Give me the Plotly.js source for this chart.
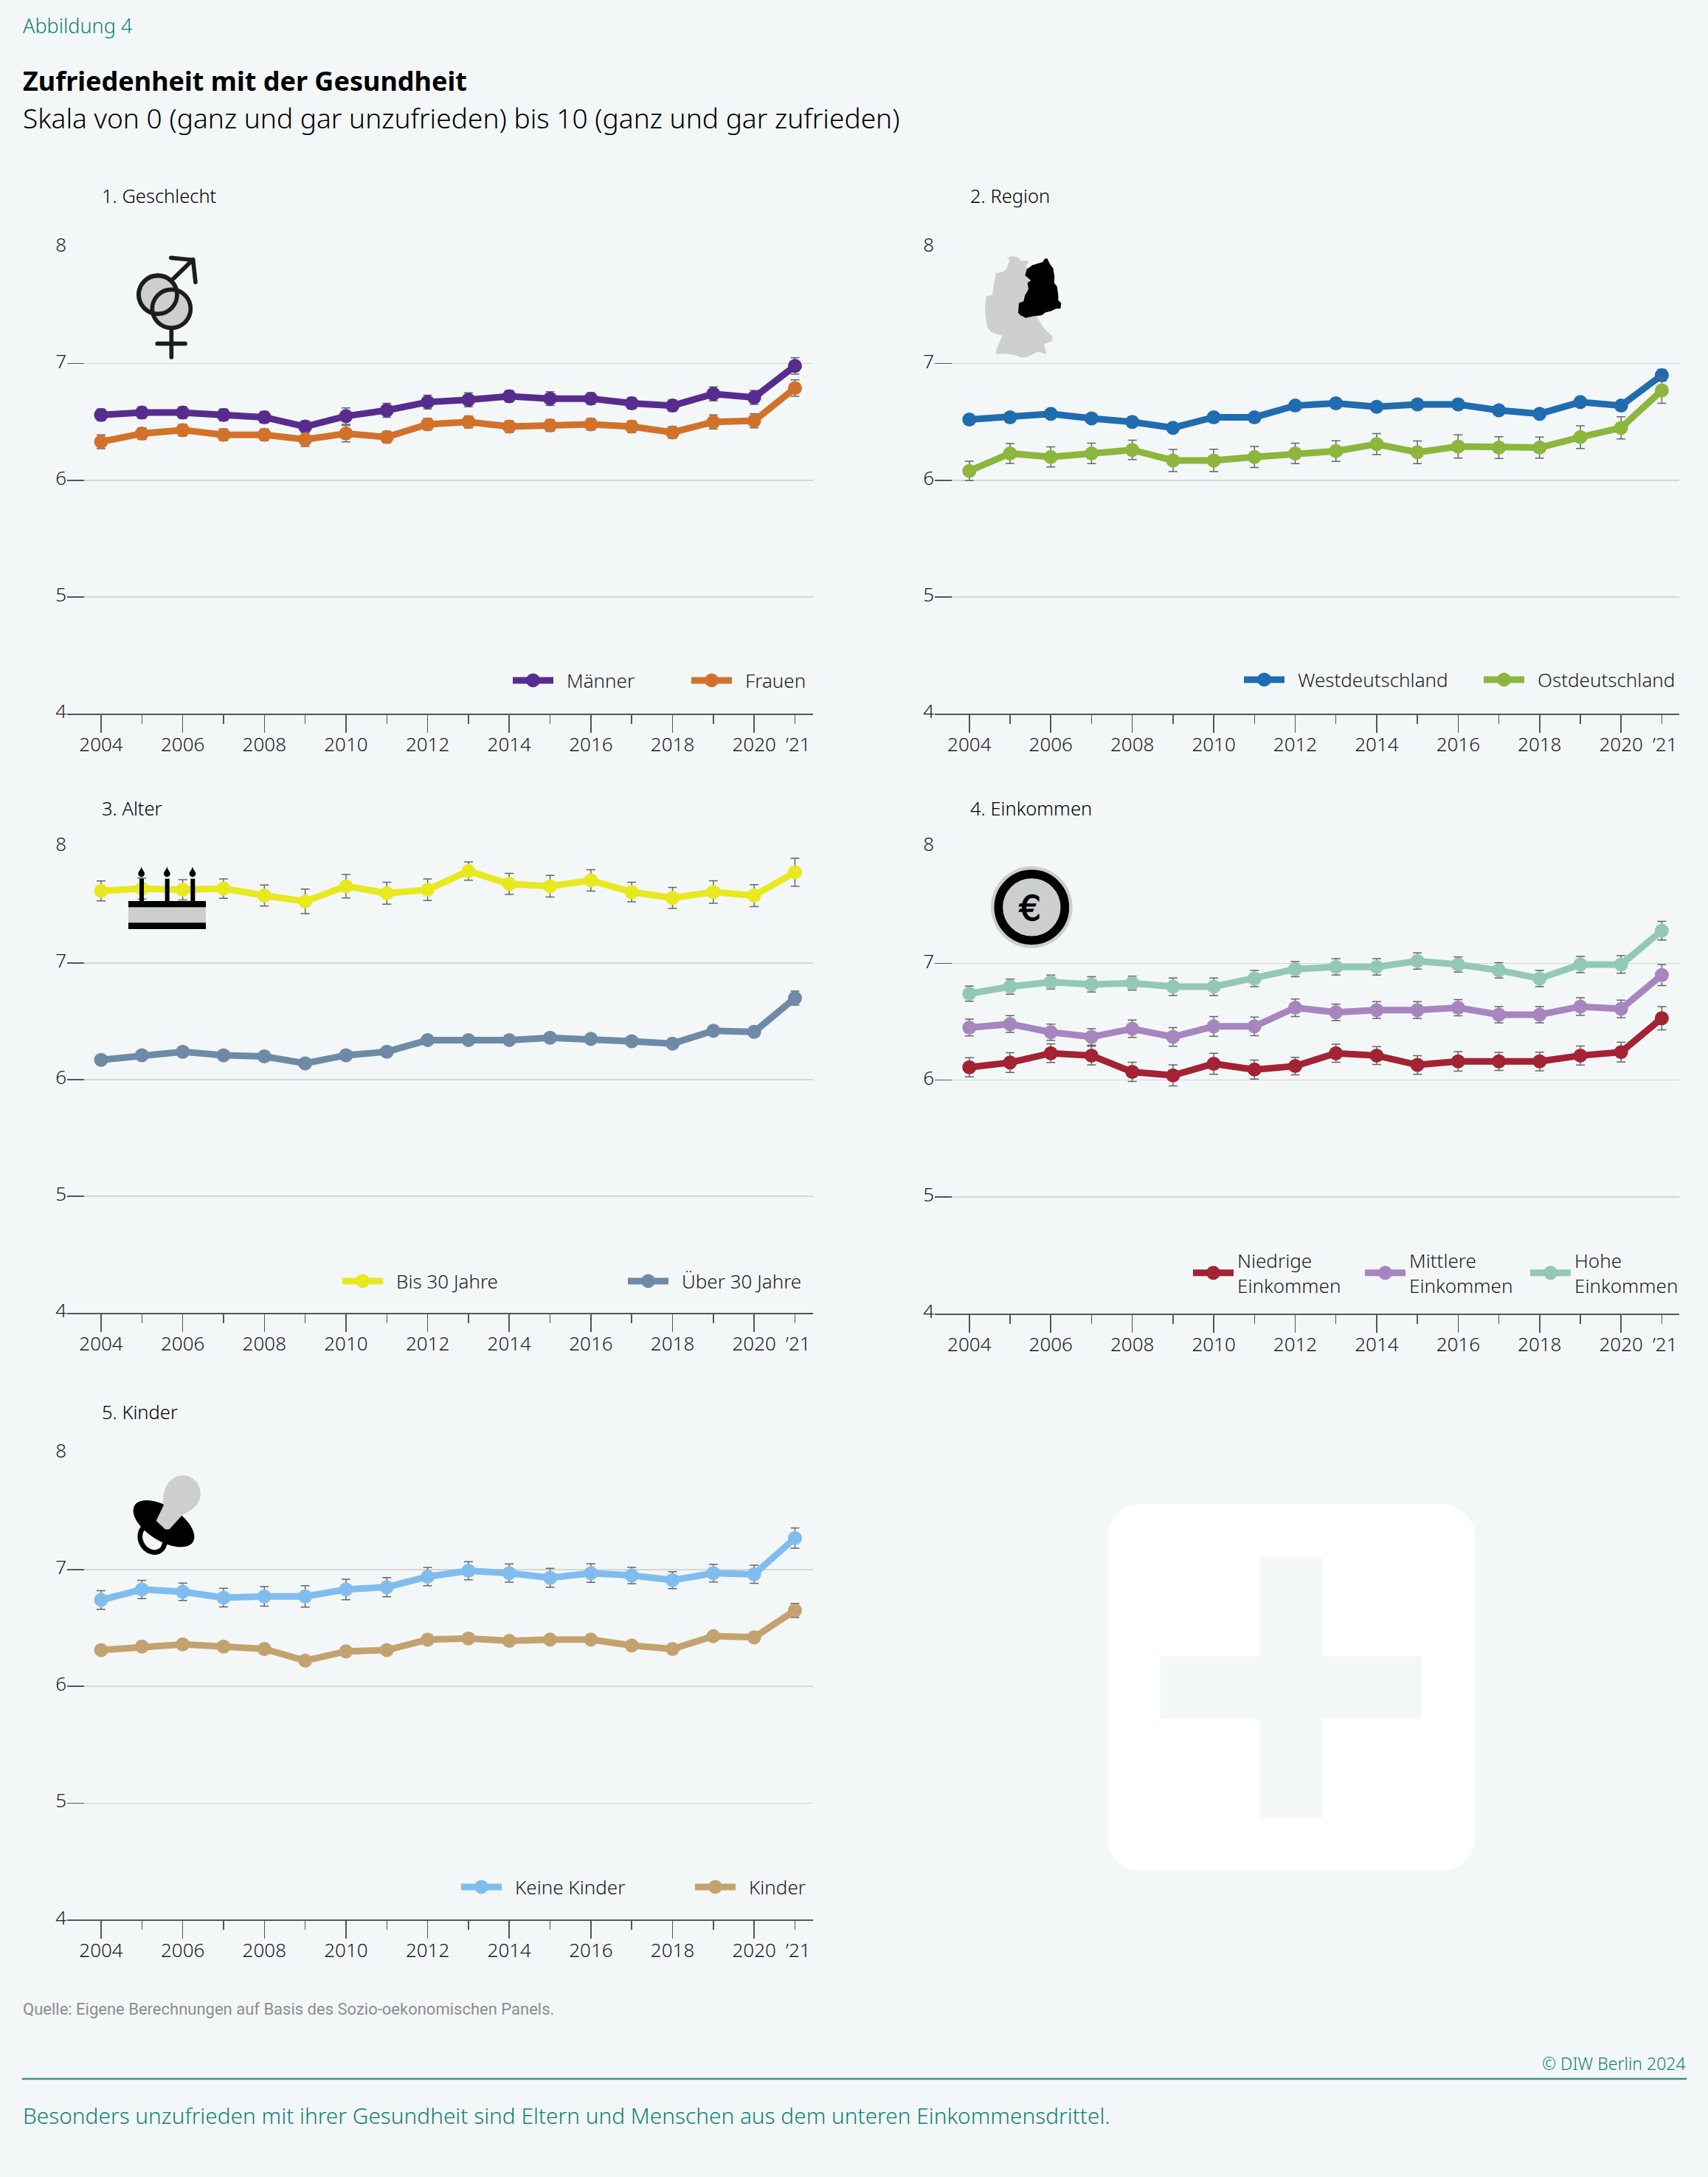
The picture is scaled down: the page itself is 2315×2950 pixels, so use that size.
<!DOCTYPE html>
<html>
<head>
<meta charset="utf-8">
<script src="https://cdn.plot.ly/plotly-3.0.1.min.js"></script>
<style>html,body{margin:0;padding:0;background:#f3f7f8}</style>
</head>
<body>
<div id="chart"></div>
<script>
var W = 2315, H = 2950;

var years = [2004,2005,2006,2007,2008,2009,2010,2011,2012,2013,2014,2015,2016,2017,2018,2019,2020,2021];
var tickLabels = ['2004','','2006','','2008','','2010','','2012','','2014','','2016','','2018','','2020','\u2009\u2009\u201921'];
var evenYears = [2004,2006,2008,2010,2012,2014,2016,2018,2020];
var yTicks = [4,5,6,7,8];

var maenner = [6.56,6.58,6.58,6.56,6.54,6.46,6.55,6.60,6.67,6.69,6.72,6.70,6.70,6.66,6.64,6.74,6.71,6.98];
var maennerErr = [.05,.05,.05,.05,.05,.05,.07,.06,.06,.06,.05,.06,.05,.05,.05,.06,.06,.07];
var frauen = [6.33,6.40,6.43,6.39,6.39,6.35,6.40,6.37,6.48,6.50,6.46,6.47,6.48,6.46,6.41,6.50,6.51,6.79];
var frauenErr = [.06,.05,.05,.05,.05,.06,.07,.05,.05,.05,.05,.05,.05,.05,.05,.06,.06,.07];

var west = [6.52,6.54,6.57,6.53,6.50,6.45,6.54,6.54,6.64,6.66,6.63,6.65,6.65,6.60,6.57,6.67,6.64,6.90];
var westErr = [.03,.03,.03,.03,.03,.03,.03,.03,.03,.03,.03,.03,.03,.03,.03,.03,.03,.05];
var ost = [6.08,6.23,6.20,6.23,6.26,6.17,6.17,6.20,6.23,6.25,6.31,6.24,6.29,6.28,6.28,6.37,6.45,6.77];
var ostErr = [.083,.085,.086,.088,.083,.095,.096,.09,.088,.088,.09,.097,.1,.093,.09,.097,.095,.11];

var bis30 = [7.62,7.64,7.63,7.64,7.58,7.53,7.66,7.60,7.63,7.79,7.68,7.66,7.71,7.61,7.56,7.61,7.58,7.78];
var bis30Err = [.085,.09,.087,.083,.09,.105,.1,.094,.092,.078,.09,.092,.092,.084,.09,.097,.094,.12];
var ueber30 = [6.17,6.21,6.24,6.21,6.20,6.14,6.21,6.24,6.34,6.34,6.34,6.36,6.35,6.33,6.31,6.42,6.41,6.70];
var ueber30Err = [.03,.03,.03,.03,.03,.03,.03,.03,.03,.03,.03,.03,.03,.03,.03,.03,.03,.06];

var niedrig = [6.11,6.15,6.23,6.21,6.07,6.04,6.14,6.09,6.12,6.23,6.21,6.13,6.16,6.16,6.16,6.21,6.24,6.53];
var niedrigErr = [.082,.084,.08,.08,.082,.09,.09,.082,.075,.077,.077,.08,.084,.077,.08,.082,.084,.1];
var mittel = [6.45,6.48,6.41,6.37,6.44,6.37,6.46,6.46,6.62,6.58,6.60,6.60,6.62,6.56,6.56,6.63,6.61,6.90];
var mittelErr = [.072,.072,.07,.07,.075,.08,.085,.08,.075,.07,.072,.072,.07,.07,.07,.075,.075,.09];
var hoch = [6.74,6.80,6.84,6.82,6.83,6.80,6.80,6.87,6.95,6.97,6.97,7.02,6.99,6.94,6.87,6.99,6.99,7.28];
var hochErr = [.065,.065,.06,.065,.06,.075,.075,.07,.065,.07,.07,.07,.065,.065,.07,.07,.075,.08];

var keineKinder = [6.74,6.83,6.81,6.76,6.77,6.77,6.83,6.85,6.94,6.99,6.97,6.93,6.97,6.95,6.91,6.97,6.96,7.27];
var keineKinderErr = [.08,.078,.074,.08,.084,.092,.088,.082,.078,.078,.078,.08,.08,.07,.073,.076,.077,.087];
var kinder = [6.31,6.34,6.36,6.34,6.32,6.22,6.30,6.31,6.40,6.41,6.39,6.40,6.40,6.35,6.32,6.43,6.42,6.65];
var kinderErr = [.03,.03,.03,.03,.03,.03,.03,.03,.03,.03,.03,.03,.03,.03,.03,.03,.03,.06];

var BG = '#f3f7f8', TEAL = '#0f8276', FONT = '"Noto Sans", sans-serif', NARROW = 'Roboto, "Noto Sans", sans-serif';
var PAD = '\u2002';

// left/right of the axis line, top (8) and bottom (4) of each panel in pixels
var panels = [
  {title:'1. Geschlecht', left:91, right:1102, top:334.6, bottom:967, x2004:137, x2021:1077.5, titleY:265, legendX:690, legendY:922, entry:242, pad:PAD,
   series:[['Männer',maenner,maennerErr,'#582c8f'],['Frauen',frauen,frauenErr,'#d2722a']]},
  {title:'2. Region', left:1267, right:2276, top:334.6, bottom:967, x2004:1313.8, x2021:2252.4, titleY:265, legendX:1681, legendY:921, entry:325, pad:PAD,
   series:[['Westdeutschland',west,westErr,'#1f6cb0'],['Ostdeutschland',ost,ostErr,'#8cb63c']]},
  {title:'3. Alter', left:91, right:1102, top:1147.2, bottom:1779, x2004:137, x2021:1077.5, titleY:1095, legendX:459, legendY:1736, entry:387, pad:PAD,
   series:[['Bis 30 Jahre',bis30,bis30Err,'#e8e81f'],['Über 30 Jahre',ueber30,ueber30Err,'#6f8aa6']]},
  {title:'4. Einkommen', left:1267, right:2276, top:1147.2, bottom:1780, x2004:1313.8, x2021:2252.4, titleY:1095, legendX:1612, legendY:1725, entry:233, pad:'',
   series:[['Niedrige<br>Einkommen',niedrig,niedrigErr,'#a32234'],['Mittlere<br>Einkommen',mittel,mittelErr,'#a786c0'],['Hohe<br>Einkommen',hoch,hochErr,'#93c8b8',2069]]},
  {title:'5. Kinder', left:91, right:1102, top:1968.8, bottom:2601.4, x2004:137, x2021:1077.5, titleY:1912.5, legendX:620, legendY:2557, entry:317, pad:PAD,
   series:[['Keine Kinder',keineKinder,keineKinderErr,'#80bdee'],['Kinder',kinder,kinderErr,'#c4a26f']]}
];

function px(x){ return x / W; }
function py(y){ return 1 - y / H; }

function icon(svg, x, y, w, h, vw, vh){
  var s = '<svg xmlns="http://www.w3.org/2000/svg" width="'+w*2+'" height="'+h*2+'" viewBox="0 0 '+vw+' '+vh+'">'+svg+'</svg>';
  return {source:'data:image/svg+xml;utf8,'+encodeURIComponent(s), xref:'paper', yref:'paper',
    x:px(x), y:py(y), sizex:w/W, sizey:h/H, sizing:'stretch', xanchor:'left', yanchor:'top', layer:'above'};
}

function label(text, x, y, size, color, anchor, weight, family){
  return {text:text, xref:'paper', yref:'paper', x:px(x), y:py(y), xanchor:anchor||'left', yanchor:'middle',
    showarrow:false, font:{family:family||FONT, size:size, color:color, weight:weight||300}, borderpad:0};
}

function legendBox(x, y, entry){
  return {
    x:px(x), y:py(y), xanchor:'left', yanchor:'middle', orientation:'h',
    itemwidth:55, entrywidth:entry - 70, entrywidthmode:'pixels', bgcolor:'rgba(0,0,0,0)',
    font:{family:FONT, size:26, color:'#1d1d1b', weight:300}, traceorder:'normal', tracegroupgap:0
  };
}

var traces = [];
var layout = {
  width:W, height:H, autosize:false, margin:{l:0,r:0,t:0,b:0,autoexpand:false},
  paper_bgcolor:BG, plot_bgcolor:'rgba(0,0,0,0)', font:{family:FONT, color:'#1d1d1b'},
  annotations:[
    label('Abbildung 4', 30, 34, 27, TEAL),
    label('Zufriedenheit mit der Gesundheit', 30, 110, 36, '#000', 'left', 700),
    label('Skala von 0 (ganz und gar unzufrieden) bis 10 (ganz und gar zufrieden)', 30, 159, 37.1, '#000'),
    label('Quelle: Eigene Berechnungen auf Basis des Sozio-oekonomischen Panels.', 30, 2722, 22, '#8d8d8d', 'left', 400, NARROW),
    label('© DIW Berlin 2024', 2286, 2796, 23, TEAL, 'right'),
    label('Besonders unzufrieden mit ihrer Gesundheit sind Eltern und Menschen aus dem unteren Einkommensdrittel.', 30, 2866, 29.8, TEAL)
  ],
  shapes:[{type:'line', xref:'paper', yref:'paper', x0:px(30), x1:px(2286), y0:py(2817), y1:py(2817), line:{color:'#3a8f84', width:2.5}}],
  images:[]
};

panels.forEach(function(p, i){
  var n = i === 0 ? '' : String(i + 1);
  var unit = (p.x2021 - p.x2004) / 17;
  layout['xaxis'+n] = {
    domain:[px(p.left), px(p.right)], anchor:'y'+n,
    range:[2004 - (p.x2004 - p.left) / unit, 2021 + (p.right - p.x2021) / unit],
    tickmode:'array', tickvals:years, ticktext:tickLabels, ticks:'outside', ticklen:12, tickwidth:1.5, tickcolor:'#555',
    minor:{tickmode:'array', tickvals:evenYears, ticks:'outside', ticklen:24, tickwidth:1.5, tickcolor:'#555', showgrid:false},
    ticklabelstandoff:6, tickfont:{family:FONT, size:26, color:'#1d1d1b', weight:300},
    showline:true, linecolor:'#555', linewidth:1.5, showgrid:false, zeroline:false, fixedrange:true
  };
  layout['yaxis'+n] = {
    domain:[py(p.bottom), py(p.top)], anchor:'x'+n, range:[4,8],
    tickmode:'array', tickvals:yTicks, ticks:'inside', ticklen:23, tickwidth:1.5, tickcolor:'#555',
    ticklabelshift:-3, tickfont:{family:FONT, size:26, color:'#1d1d1b', weight:300},
    showgrid:true, gridcolor:'#d3d7d9', gridwidth:1.5, showline:false, zeroline:false, fixedrange:true
  };
  var legendId = i === 0 ? 'legend' : 'legend' + (i + 1);
  layout[legendId] = legendBox(p.legendX, p.legendY, p.entry);
  layout.annotations.push(label(p.title, p.x2004, p.titleY, 25.5, '#000'));
  p.series.forEach(function(s){
    var id = legendId;
    if(s[4]){ // entry with its own spacing in the original
      id = 'legend6';
      layout[id] = legendBox(s[4], p.legendY, p.entry);
    }
    traces.push({
      type:'scatter', mode:'lines+markers', name:p.pad + s[0], x:years, y:s[1], xaxis:'x'+n, yaxis:'y'+n, legend:id,
      line:{color:s[3], width:9}, marker:{color:s[3], size:19},
      error_y:{type:'data', array:s[2], visible:true, color:'#666', thickness:1.5, width:6}, hoverinfo:'x+y+name'
    });
  });
});

// pictograms from the original figure
var gray = '#cdcfce', ink = '#1d1d1b';
layout.images.push(icon(
  '<g fill="none" stroke="'+ink+'" stroke-width="17" stroke-linecap="round" stroke-linejoin="round">'+
  '<circle cx="192" cy="238" r="78" fill="'+gray+'"/><circle cx="247" cy="295" r="78" fill="'+gray+'"/>'+
  '<circle cx="192" cy="238" r="78"/>'+
  '<path d="M250 178L335 95M245 88L335 97L345 187M247 375V492M190 437H303"/></g>', 150, 320, 300, 200, 900, 600));
layout.images.push(icon(
  '<path fill="'+gray+'" d="M192 72L198 90L212 82L238 85L250 100L280 100L282 108L268 125L280 125L320 335L345 375L380 408L378 425L345 440L355 480L320 470L280 490L255 495L235 485L190 478L152 480L150 465L175 405L130 390L115 370L110 345L105 290L110 245L135 238L140 205L150 150L180 145L195 130L205 100Z"/>'+
  '<path fill="#000" d="M348 92L358 90L365 105L372 118L382 130L388 165L386 190L398 205L403 240L403 260L415 272L412 295L395 295L372 305L352 310L335 322L305 325L270 332L250 322L240 312L243 272L262 265L268 240L282 215L278 190L292 180L268 160L275 135L298 118L340 105Z"/>', 1300, 320, 200, 180, 600, 540));
layout.images.push(icon(
  '<rect x="72" y="213" width="315" height="114" fill="#000"/><rect x="72" y="238" width="315" height="63" fill="'+gray+'"/>'+
  '<path fill="#000" d="M117 122h18v91h-18zM221 122h18v91h-18zM325 122h18v91h-18z"/>'+
  '<path fill="#000" d="M125 73C128 88 138 92 138 102A13 13 0 0 1 112 102C112 92 122 88 125 73ZM229 73C232 88 242 92 242 102A13 13 0 0 1 216 102C216 92 226 88 229 73ZM333 73C336 88 346 92 346 102A13 13 0 0 1 320 102C320 92 330 88 333 73Z"/>', 150, 1150, 200, 150, 600, 450));
layout.images.push(icon(
  '<circle cx="205" cy="208" r="166" fill="'+gray+'"/><circle cx="205" cy="208" r="135" fill="none" stroke="#000" stroke-width="35"/>'+
  '<text x="198" y="260" font-family="DejaVu Sans" font-size="140" text-anchor="middle" fill="#000" stroke="#000" stroke-width="4">€</text>', 1330, 1160, 140, 140, 420, 420));
layout.images.push(icon(
  '<ellipse cx="140" cy="285" rx="48" ry="58" fill="none" stroke="#000" stroke-width="20" transform="rotate(-30 140 285)"/>'+
  '<ellipse cx="186" cy="224" rx="140" ry="70" fill="#000" transform="rotate(32 186 224)"/>'+
  '<path fill="'+gray+'" d="M155 212L185 150C175 70 220 28 265 28C310 28 338 70 335 110C330 150 300 170 262 188L210 245Q200 250 190 245Z"/>', 160, 1990, 140, 130, 420, 390));
layout.images.push(icon(
  '<path fill="#fff" fill-rule="evenodd" d="M45 0H453.5A45 45 0 0 1 498.5 45V452.5A45 45 0 0 1 453.5 497.5H45A45 45 0 0 1 0 452.5V45A45 45 0 0 1 45 0ZM206.5 72V206.5H72V291.5H206.5V425.5H291.5V291.5H426V206.5H291.5V72Z"/>', 1500.7, 2038, 498.5, 497.5, 498.5, 497.5));

Plotly.newPlot('chart', traces, layout, {displayModeBar:false, staticPlot:true}).then(function(gd){
  // plotly caps the legend glyphs, the original has them as thick as the lines
  gd.querySelectorAll('.legendlines path').forEach(function(el){ el.style.strokeWidth = '9px'; });
  gd.querySelectorAll('.legendpoints path').forEach(function(el){
    el.setAttribute('transform', (el.getAttribute('transform') || '') + ' scale(1.18)');
  });
});
</script>
</body>
</html>
